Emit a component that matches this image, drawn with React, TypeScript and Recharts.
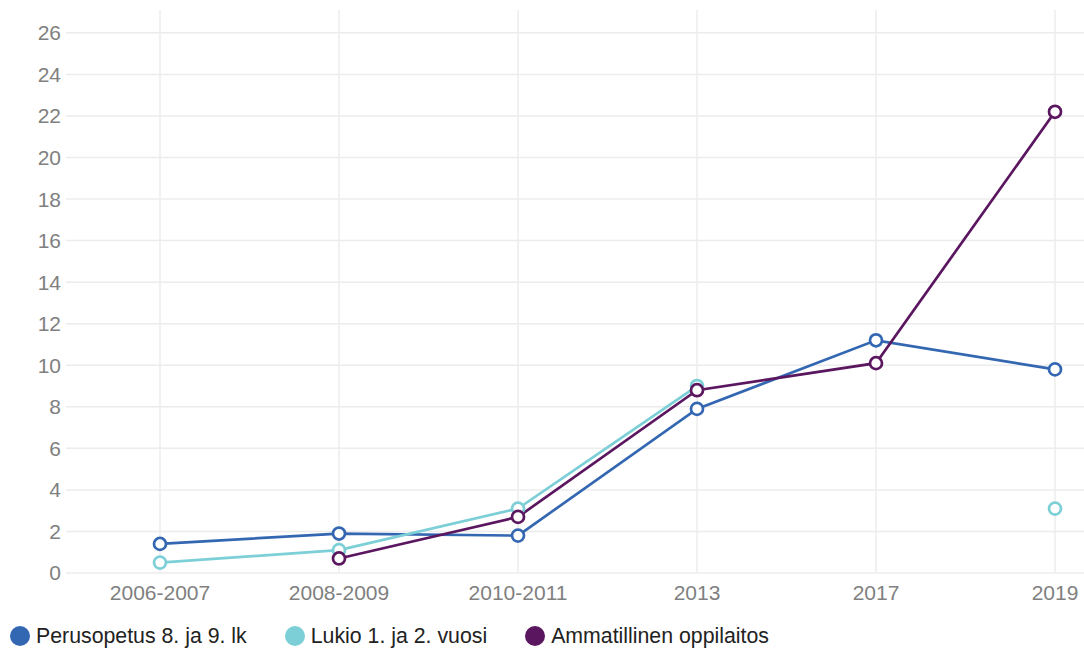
import React from "react";
import { LineChart, Line, XAxis, YAxis, CartesianGrid, Legend } from "recharts";

const categories = ["2006-2007", "2008-2009", "2010-2011", "2013", "2017", "2019"];
const perusopetus = [1.4, 1.9, 1.8, 7.9, 11.2, 9.8];
const lukio: (number | null)[] = [0.5, 1.1, 3.1, 9.0, null, 3.1];
const ammatillinen: (number | null)[] = [null, 0.7, 2.7, 8.8, 10.1, 22.2];
const yTicks = [0, 2, 4, 6, 8, 10, 12, 14, 16, 18, 20, 22, 24, 26];

const series = [
  { key: "perusopetus", name: "Perusopetus 8. ja 9. lk", color: "#3467b2" },
  { key: "lukio", name: "Lukio 1. ja 2. vuosi", color: "#7ccfd6" },
  { key: "ammatillinen", name: "Ammatillinen oppilaitos", color: "#5b1660" },
];

const data = categories.map((c, i) => ({
  cat: c,
  perusopetus: perusopetus[i],
  lukio: lukio[i],
  ammatillinen: ammatillinen[i],
}));

const FONT = "'Liberation Sans', Arial, sans-serif";

const LegendContent = () => (
  <div style={{ display: "flex", alignItems: "center", height: 24, fontFamily: FONT, fontSize: 21.3, color: "#222" }}>
    {series.map((s, i) => (
      <div key={s.key} style={{ display: "flex", alignItems: "center", marginLeft: i === 0 ? 10 : 38 }}>
        <span style={{ display: "inline-block", width: 20, height: 20, borderRadius: 10, background: s.color, marginRight: 6 }} />
        <span>{s.name}</span>
      </div>
    ))}
  </div>
);

export default function App() {
  return (
    <div style={{ position: "absolute", left: 0, top: 0, width: 1084, height: 648, background: "#fff" }}>
      <LineChart width={1084} height={648} data={data} margin={{ top: 10, right: 0, left: 0, bottom: 11 }}>
        <CartesianGrid stroke="#ececec" strokeWidth={1.5} syncWithTicks />
        <XAxis
          dataKey="cat"
          scale="point"
          padding={{ left: 94, right: 29 }}
          axisLine={false}
          tickLine={false}
          tickSize={0}
          tickMargin={12}
          height={40}
          interval={0}
          tick={{ fill: "#808080", fontSize: 21, fontFamily: FONT }}
        />
        <YAxis
          domain={[0, 27.1]}
          ticks={yTicks}
          axisLine={false}
          tickLine={false}
          tickSize={0}
          tickMargin={5}
          width={66}
          interval={0}
          tick={{ fill: "#808080", fontSize: 21, fontFamily: FONT }}
        />
        <Legend
          content={<LegendContent />}
          wrapperStyle={{ position: "absolute", top: 624, left: 0, width: 1084, height: 24 }}
        />
        {series.map((s) => (
          <Line
            key={s.key}
            dataKey={s.key}
            name={s.name}
            stroke={s.color}
            strokeWidth={2.7}
            dot={{ r: 6, fill: "#fff", stroke: s.color, strokeWidth: 2.7 }}
            activeDot={false}
            connectNulls={false}
            isAnimationActive={false}
            type="linear"
          />
        ))}
      </LineChart>
    </div>
  );
}
